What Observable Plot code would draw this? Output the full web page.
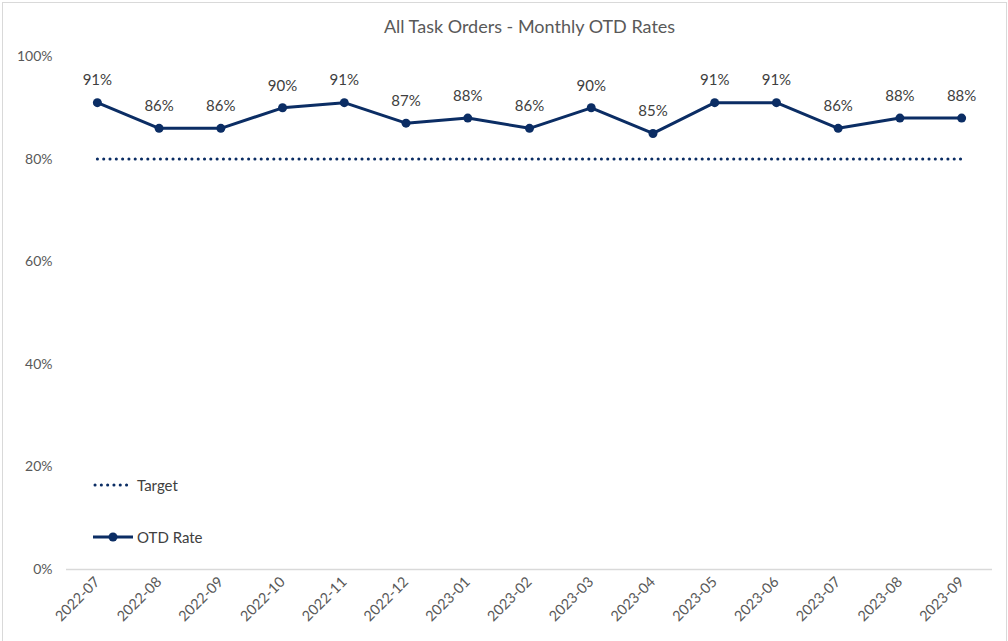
<!DOCTYPE html>
<html>
<head>
<meta charset="utf-8">
<script src="https://cdn.jsdelivr.net/npm/d3@7"></script>
<script src="https://cdn.jsdelivr.net/npm/@observablehq/plot@0.6"></script>
<style>
  html, body { margin: 0; padding: 0; background: #fff; }
  #wrap { position: relative; width: 1008px; height: 641px; overflow: hidden; }
  #frame { position: absolute; left: 2px; top: 2px; width: 1005px; height: 650px; border: 1px solid #d9d9d9; box-sizing: border-box; pointer-events: none; }
  #legend { position: absolute; left: 93px; top: 474px; font-family: Lato, "Open Sans", sans-serif; font-size: 15px; color: #404040; }
  #legend .item { display: flex; align-items: center; height: 22px; }
  #legend svg { margin-right: 4px; }
</style>
</head>
<body>
<div id="wrap">
  <div id="chart"></div>
  <div id="legend"></div>
  <div id="frame"></div>
</div>
<script>
const months = ["2022-07","2022-08","2022-09","2022-10","2022-11","2022-12","2023-01","2023-02","2023-03","2023-04","2023-05","2023-06","2023-07","2023-08","2023-09"];
const otdRate = [0.91,0.86,0.86,0.90,0.91,0.87,0.88,0.86,0.90,0.85,0.91,0.91,0.86,0.88,0.88];
const targetRate = [0.80,0.80,0.80,0.80,0.80,0.80,0.80,0.80,0.80,0.80,0.80,0.80,0.80,0.80,0.80];
const yTicks = [0,0.2,0.4,0.6,0.8,1.0];
const title = "All Task Orders - Monthly OTD Rates";
const seriesNames = ["Target", "OTD Rate"];

const navy = "#0b2d64";
const data = months.map((m, i) => ({month: m, otd: otdRate[i], target: targetRate[i]}));

const chart = Plot.plot({
  width: 1008,
  height: 641,
  marginLeft: 66,
  marginRight: 16,
  marginTop: 56,
  marginBottom: 72,
  style: {fontFamily: "Lato, 'Open Sans', sans-serif", fontSize: "14px", color: "#595959", background: "transparent"},
  x: {type: "point", domain: months, padding: 0.5, round: false, label: null},
  y: {domain: [0, 1], label: null},
  marks: [
    Plot.ruleY([0], {stroke: "#d9d9d9", strokeWidth: 1.5}),
    Plot.axisY({ticks: yTicks, tickFormat: d => Math.round(d * 100) + "%", tickSize: 0, tickPadding: 14, fontSize: 14, fill: "#595959"}),
    Plot.axisX({tickSize: 0, tickRotate: -45, tickPadding: 10, fontSize: 14.5, fill: "#595959", label: null}),
    Plot.line(data, {x: "month", y: "target", stroke: navy, strokeWidth: 3, strokeDasharray: "0.1 6.2", strokeLinecap: "round"}),
    Plot.line(data, {x: "month", y: "otd", stroke: navy, strokeWidth: 3}),
    Plot.dot(data, {x: "month", y: "otd", fill: navy, r: 4.5}),
    Plot.text(data, {x: "month", y: "otd", text: d => Math.round(d.otd * 100) + "%", dy: -22, fill: "#404040", fontSize: 15}),
    Plot.text([title], {frameAnchor: "top", dy: -36, fill: "#595959", fontSize: 18, text: d => d})
  ]
});
document.getElementById("chart").appendChild(chart);

// Legend (HTML overlay)
const legend = document.getElementById("legend");
const samples = [
  `<svg width="40" height="10"><line x1="2" x2="38" y1="5" y2="5" stroke="${navy}" stroke-width="3" stroke-dasharray="0.1 6.2" stroke-linecap="round"/></svg>`,
  `<svg width="40" height="10"><line x1="0" x2="40" y1="5" y2="5" stroke="${navy}" stroke-width="3"/><circle cx="20" cy="5" r="4.5" fill="${navy}"/></svg>`
];
seriesNames.forEach((name, i) => {
  const div = document.createElement("div");
  div.className = "item";
  if (i === 1) div.style.marginTop = "30px";
  div.innerHTML = samples[i] + `<span>${name}</span>`;
  legend.appendChild(div);
});
</script>
</body>
</html>
